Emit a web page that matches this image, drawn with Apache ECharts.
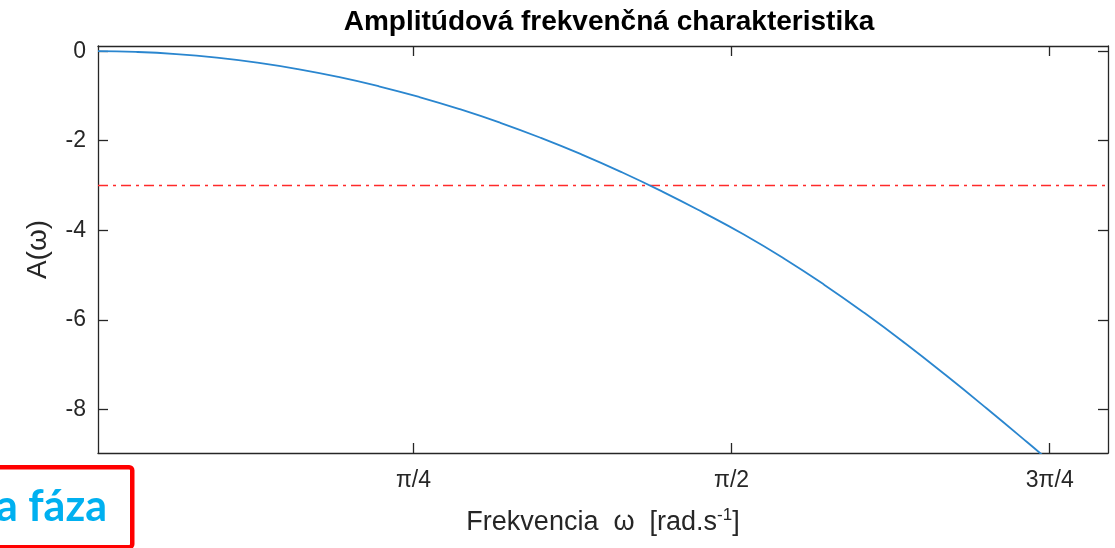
<!DOCTYPE html>
<html><head><meta charset="utf-8">
<script src="https://cdn.jsdelivr.net/npm/echarts@6/dist/echarts.min.js"></script>
<style>html,body{margin:0;padding:0;background:#fff}#c{width:1115px;height:548px}</style>
</head><body><div id="c"></div>
<script>
// Frequency samples (rad/s) and amplitude (dB)
const omega     = [0.0067, 0.10, 0.20, 0.30, 0.40, 0.50, 0.60, 0.70, 0.80, 0.90, 1.00, 1.10, 1.20, 1.30, 1.40, 1.50, 1.60, 1.70, 1.80, 1.90, 2.00, 2.10, 2.20, 2.30, 2.40];
const amplitude = [0.000, -0.016, -0.064, -0.144, -0.256, -0.400, -0.576, -0.784, -1.024, -1.296, -1.600, -1.936, -2.304, -2.704, -3.136, -3.600, -4.090, -4.630, -5.220, -5.855, -6.530, -7.240, -7.975, -8.730, -9.500];
const cutoffOmega = [0.0067, 2.5];
const cutoffLevel = [-3, -3];
const xTickValues = [Math.PI / 4, Math.PI / 2, 3 * Math.PI / 4];
const xTickLabels = ['π/4', 'π/2', '3π/4'];
const yTickValues = [-8, -6, -4, -2, 0];
const xRange = [0.0067, 2.5];
const yRange = [-8.975, 0.116];

const chart = echarts.init(document.getElementById('c'), null, {renderer: 'canvas'});
const FONT = '"Liberation Sans", Arial, Helvetica, sans-serif';
const INK = '#262626';
const xLabelFmt = v => {
  for (let i = 0; i < xTickValues.length; i++) if (Math.abs(v - xTickValues[i]) < 1e-6) return xTickLabels[i];
  return '';
};
const baseX = {
  type: 'value', min: xRange[0], max: xRange[1],
  splitLine: {show: false},
  axisLine: {show: true, onZero: false, lineStyle: {color: INK, width: 1.3}},
  axisTick: {show: true, inside: true, length: 10, customValues: xTickValues, lineStyle: {color: INK, width: 1.3}},
};
const baseY = {
  type: 'value', min: yRange[0], max: yRange[1],
  splitLine: {show: false},
  axisLine: {show: true, onZero: false, lineStyle: {color: INK, width: 1.3}},
  axisTick: {show: true, inside: true, length: 10, customValues: yTickValues, lineStyle: {color: INK, width: 1.3}},
};
const option = {
  animation: false,
  backgroundColor: '#fff',
  title: {
    text: 'Amplitúdová frekvenčná charakteristika',
    left: 604, top: 3, textAlign: 'center',
    textStyle: {fontFamily: FONT, fontWeight: 'bold', fontSize: 28, color: '#000'}
  },
  grid: {left: 98, right: 7, top: 46, bottom: 95},
  xAxis: [
    Object.assign({}, baseX, {
      position: 'bottom',
      axisLabel: {show: true, customValues: xTickValues, formatter: xLabelFmt, margin: 16,
        fontFamily: FONT, fontSize: 23, color: INK},
      name: '{a|Frekvencia  ω  [rad.s}{s|-1}{a|]}',
      nameLocation: 'middle', nameGap: 54,
      nameTextStyle: {rich: {
        a: {fontFamily: FONT, fontSize: 27, color: INK},
        s: {fontFamily: FONT, fontSize: 17, color: INK, verticalAlign: 'top', padding: [0, 0, 14, 0]}
      }}
    }),
    Object.assign({}, baseX, {position: 'top', axisLabel: {show: false}})
  ],
  yAxis: [
    Object.assign({}, baseY, {
      position: 'left',
      axisLabel: {show: true, customValues: yTickValues, margin: 12,
        fontFamily: FONT, fontSize: 23, color: INK},
      name: 'A(ω)', nameLocation: 'middle', nameGap: 46, nameRotate: 90,
      nameTextStyle: {fontFamily: FONT, fontSize: 28, color: INK}
    }),
    Object.assign({}, baseY, {position: 'right', axisLabel: {show: false}})
  ],
  series: [
    {
      type: 'line', xAxisIndex: 0, yAxisIndex: 0, symbol: 'none',
      data: cutoffOmega.map((w, i) => [w, cutoffLevel[i]]),
      lineStyle: {color: '#ff2a2a', width: 1.3, type: [10, 5, 3, 5]}, z: 2
    },
    {
      type: 'line', xAxisIndex: 0, yAxisIndex: 0, symbol: 'none', smooth: true, clip: true,
      data: omega.map((w, i) => [w, amplitude[i]]),
      lineStyle: {color: '#2a86cf', width: 1.8}, z: 3
    }
  ],
  graphic: [
    {type: 'rect', left: -20, top: 465, shape: {width: 150, height: 80, r: 3},
      style: {fill: 'transparent', stroke: '#ff0000', lineWidth: 4.5}},
    {type: 'text', right: 1115 - 107, top: 486,
      style: {text: 'a fáza', fill: '#00b0f0', font: 'bold 43px Lato, "Open Sans", sans-serif', textAlign: 'right'}}
  ]
};
chart.setOption(option);
</script>
</body></html>
